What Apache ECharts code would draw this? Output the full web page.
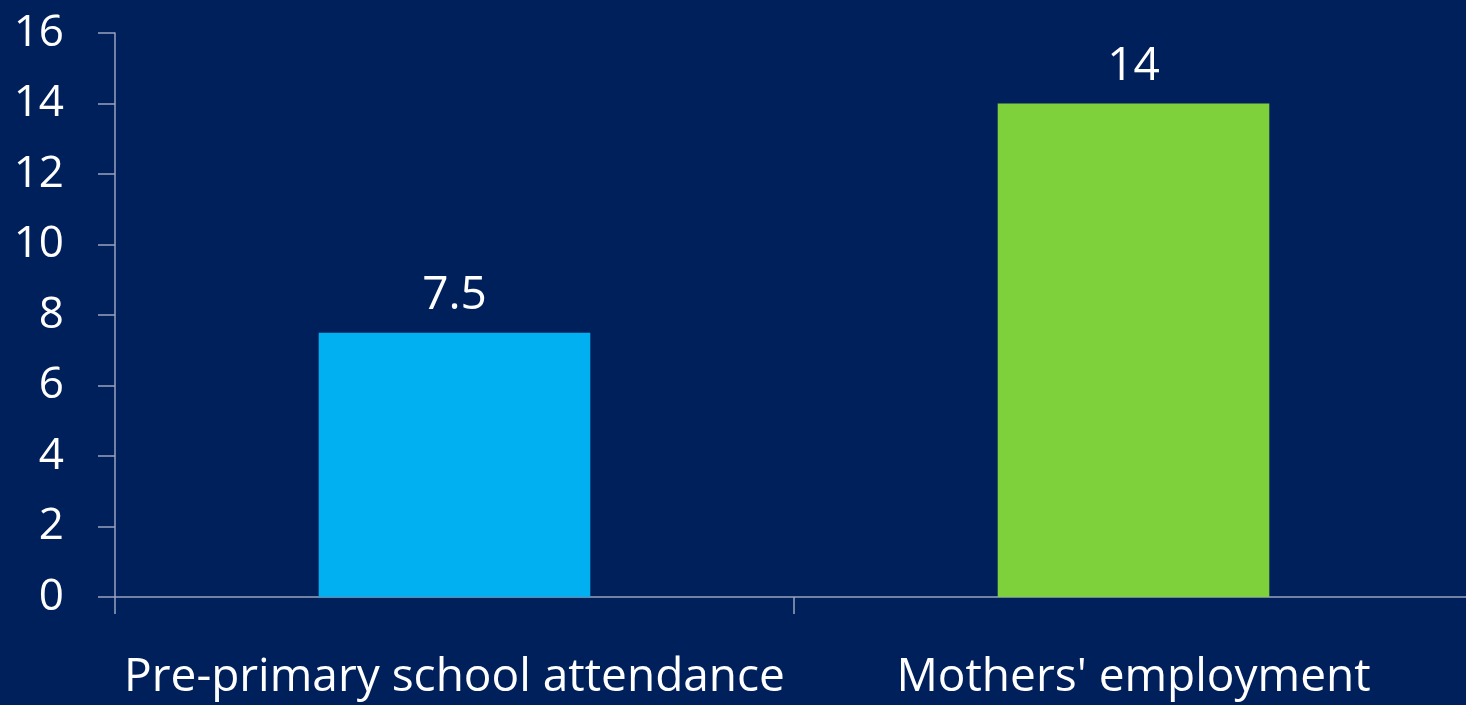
<!DOCTYPE html>
<html>
<head>
<meta charset="utf-8">
<style>
  html, body { margin: 0; padding: 0; background: #00205B; }
  #chart { width: 1466px; height: 705px; }
</style>
<script src="https://cdn.jsdelivr.net/npm/echarts@6/dist/echarts.min.js"></script>
</head>
<body>
<div id="chart"></div>
<script>
// Categories and values
const categories = ['Pre-primary school attendance', "Mothers' employment"];
const values = [7.5, 14];
const barColors = ['#00B0F0', '#7FD13B'];
const yTicks = { min: 0, max: 16, interval: 2 };

const FONT = '"Open Sans", "Noto Sans", sans-serif';
const AXIS_COLOR = '#98a2bf';

const chart = echarts.init(document.getElementById('chart'));
chart.setOption({
  backgroundColor: '#00205B',
  animation: false,
  grid: { left: 115, right: -7, top: 33, bottom: 108, containLabel: false, outerBoundsMode: 'none' },
  xAxis: {
    type: 'category',
    data: categories,
    boundaryGap: true,
    axisLine: { show: true, lineStyle: { color: AXIS_COLOR, width: 1.5 } },
    axisTick: { show: true, length: 17, lineStyle: { color: AXIS_COLOR, width: 1.5 } },
    axisLabel: { color: '#ffffff', fontFamily: FONT, fontSize: 46, margin: 58, interval: 0 },
    splitLine: { show: false }
  },
  yAxis: {
    type: 'value',
    min: yTicks.min,
    max: yTicks.max,
    interval: yTicks.interval,
    axisLine: { show: true, lineStyle: { color: AXIS_COLOR, width: 1.5 } },
    axisTick: { show: true, length: 17, lineStyle: { color: AXIS_COLOR, width: 1.5 } },
    axisLabel: { color: '#ffffff', fontFamily: FONT, fontSize: 44, margin: 51 },
    splitLine: { show: false }
  },
  series: [{
    type: 'bar',
    data: values.map((v, i) => ({ value: v, itemStyle: { color: barColors[i] } })),
    barWidth: '40%',
    label: {
      show: true,
      position: 'top',
      distance: 14,
      color: '#ffffff',
      fontFamily: FONT,
      fontSize: 46
    }
  }]
});
</script>
</body>
</html>
